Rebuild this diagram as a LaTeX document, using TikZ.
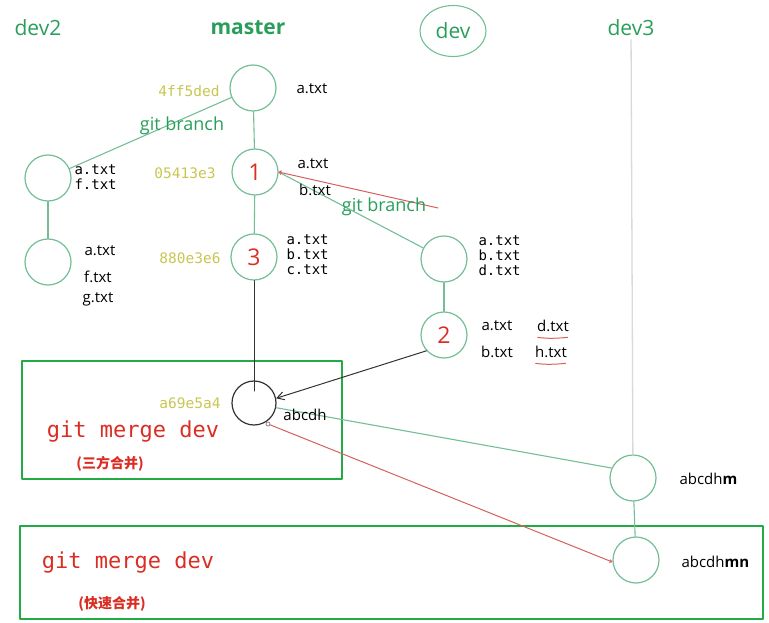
\documentclass[tikz,border=0pt]{standalone}
\usepackage{fontspec}
\setmainfont{Open Sans}
\setmonofont{DejaVu Sans Mono}
\newfontfamily\cjk{Noto Sans CJK SC}
\usetikzlibrary{shapes.geometric,arrows.meta}
\definecolor{cline}{RGB}{115,190,150}
\definecolor{ctext}{RGB}{40,158,90}
\definecolor{cbox}{RGB}{34,170,68}
\definecolor{chash}{RGB}{200,198,80}
\definecolor{cred}{RGB}{218,45,35}
\definecolor{credl}{RGB}{215,95,95}
\begin{document}
\begin{tikzpicture}[x=1pt,y=-1pt,>=stealth,line join=round,line cap=round,
	commit/.style={circle,draw=cline,line width=1.2pt,minimum size=46pt,inner sep=0pt,text=cred,font=\fontsize{23}{23}\selectfont},
	branch/.style={text=ctext,font=\fontsize{21}{21}\selectfont},
	hash/.style={text=chash,font=\ttfamily\fontsize{14.5}{15}\selectfont},
	file/.style={font=\fontsize{15}{15}\selectfont},
	mfile/.style={align=left,anchor=west,font=\ttfamily\fontsize{14}{15}\selectfont},
	gline/.style={draw=cline,line width=1.1pt},
	rline/.style={draw=credl,line width=1pt},
	cmd/.style={text=cred,font=\ttfamily\fontsize{22}{22}\selectfont},
	note/.style={text=cred,font=\cjk\bfseries\fontsize{14}{14}\selectfont},
	mbox/.style={draw=cbox,line width=2.5pt}]
	\useasboundingbox (0,0) rectangle (769,623);
	% branch names
	\node[branch] (ndev2) at (38,28) {dev2};
	\node[branch,font=\bfseries\fontsize{21}{21}\selectfont] (nmaster) at (248,28) {master};
	\node[branch,ellipse,draw=cline,line width=1.1pt,minimum width=66pt,minimum height=51pt,inner sep=0pt] (ndev) at (453,31) {dev};
	\node[branch] (ndev3) at (631,28) {dev3};
	% boxes
	\draw[mbox] (22,361) rectangle (342,479);
	\draw[mbox] (20,526) rectangle (763,619);
	% commits
	\node[commit] (c0) at (253,88) {};
	\node[commit] (c1) at (255,172) {1};
	\node[commit] (c3) at (254,257) {3};
	\node[commit] (d1) at (48,178) {};
	\node[commit] (d2) at (48,262) {};
	\node[commit] (e1) at (444,259) {};
	\node[commit] (e2) at (444,335) {2};
	\node[commit,draw=black!80,minimum size=44pt] (m) at (254,403) {};
	\node[commit] (f1) at (633,478) {};
	\node[commit] (f2) at (636,560) {};
	\node[circle,draw=black!60,line width=0.6pt,minimum size=4pt,inner sep=0pt] (mo) at (268,424) {};
	\coordinate (mi) at (254,391);
	\coordinate (cut) at (438,208);
	% connectors
	\draw[gline] (c0) -- (d1);
	\draw[gline] (c0) -- (c1);
	\draw[gline] (c1) -- (c3);
	\draw[gline] (d1) -- (d2);
	\draw[gline] (c1.east) -- (e1.152);
	\draw[rline,{Straight Barb[length=2pt,width=4pt]}-] (c1.east) -- (cut);
	\draw[gline] (e1) -- (e2);
	\draw[black!80,line width=1pt] (c3) -- (mi);
	\draw[black!80,line width=1pt,-{Straight Barb[length=7pt,width=8pt]}] (e2.222) -- (m.12);
	\draw[gline] (m.348) -- (f1.155);
	\draw[draw=black!15,line width=1.3pt] (ndev3) -- (f1);
	\draw[gline] (f1) -- (f2);
	\draw[rline,-{Straight Barb[length=2pt,width=3pt]}] (mo) -- (f2.185);
	% labels
	\node[hash] (h0) at (189,91) {4ff5ded};
	\node[hash] (h1) at (185,173) {05413e3};
	\node[hash] (h3) at (190,258) {880e3e6};
	\node[hash] (hm) at (190,403) {a69e5a4};
	\node[file] at (312,89) {a.txt};
	\node[branch,font=\fontsize{18}{18}\selectfont] at (182,126) {git branch};
	\node[branch,font=\fontsize{18}{18}\selectfont] at (384,207) {git branch};
	\node[file] at (313,164) {a.txt};
	\node[file] at (315,190) {b.txt};
	\node[mfile] at (71,177) {a.txt\\f.txt};
	\node[file] at (100,251) {a.txt};
	\node[file] at (98,277) {f.txt};
	\node[file] at (98,299) {g.txt};
	\node[mfile] at (283,255) {a.txt\\b.txt\\c.txt};
	\node[mfile] at (475,256) {a.txt\\b.txt\\d.txt};
	\node[file] at (497,326) {a.txt};
	\node[file] at (497,352) {b.txt};
	\node[file] (fd) at (553,326) {d.txt};
	\node[file] (fh) at (551,352) {h.txt};
	\draw[rline] (fd.south west) ++(4,2) .. controls +(10,1.5) and +(-10,1) .. +(30,0);
	\draw[rline] (fh.south west) ++(4,2) .. controls +(10,1.5) and +(-10,1) .. +(30,0);
	\node[file] at (305,415) {abcdh};
	\node[file,anchor=west] at (676,479) {abcdh\textbf{m}};
	\node[file,anchor=west] at (678,562) {abcdh\textbf{mn}};
	\node[cmd] at (133,432) {git merge dev};
	\node[note] at (110,464) {(三方合并)};
	\node[cmd] at (128,563) {git merge dev};
	\node[note] at (112,604) {(快速合并)};
\end{tikzpicture}
\end{document}
